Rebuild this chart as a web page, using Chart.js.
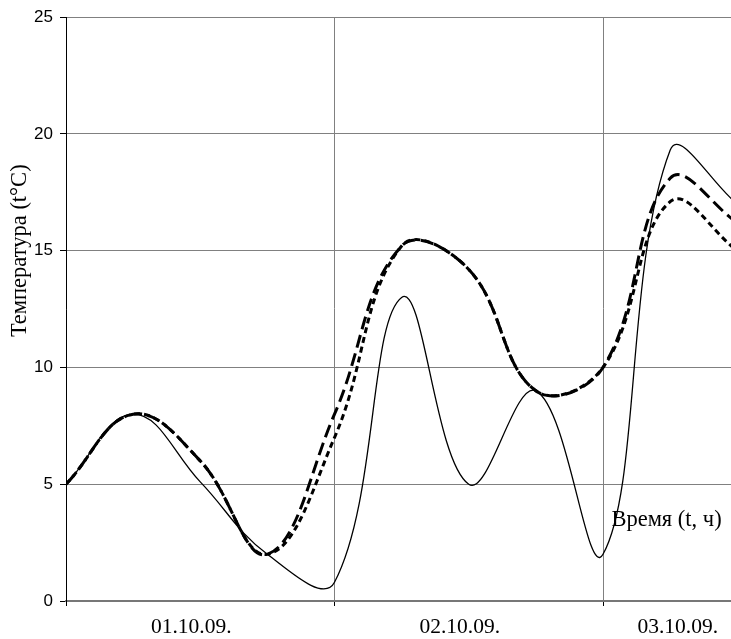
<!DOCTYPE html>
<html><head><meta charset="utf-8">
<script src="https://cdn.jsdelivr.net/npm/chart.js@4.4.0/dist/chart.umd.min.js"></script>
<style>html,body{margin:0;padding:0;background:#fff}#wrap{width:731px;height:639px}</style>
</head><body><div id="wrap"><canvas id="c" width="731" height="639"></canvas></div>
<script>
const hours = [0,6,12,18,24,30,36,42,48,54,60];
const seriesSolid = [5,8,5.1,2,0.8,13,5,9,2,19.3,17];
const seriesLongDash = [5,8,6,2,8,15.2,14.2,9,10,18.1,16.2];
const seriesShortDash = [5,8,6,2,7,15.2,14.2,9,10,17.1,15];
const dayLabels = ['01.10.09.','02.10.09.','03.10.09.'];
const dayStarts = [0,24,48];
const yTicks = [0,5,10,15,20,25];
const yTitle = 'Температура (t°C)';
const xTitle = 'Время (t, ч)';

const SERIF = '"Liberation Serif", "Times New Roman", serif';
const SANS = '"Liberation Sans", Arial, sans-serif';

function pts(vals){ return hours.map((h,i)=>({x:h,y:vals[i]})); }

const textPlugin = {
  id:'textPlugin',
  afterDraw(chart){
    const ctx = chart.ctx, xs = chart.scales.x, ys = chart.scales.y;
    ctx.save();
    ctx.fillStyle = '#000';
    ctx.font = '21.5px ' + SERIF;
    ctx.textBaseline = 'middle';
    ctx.textAlign = 'center';
    dayLabels.forEach((lab,i)=>{
      const w = ctx.measureText(lab).width;
      let cx = xs.getPixelForValue(dayStarts[i]+12) - 9;
      if (cx + w/2 > chart.width - 13) cx = chart.width - 13 - w/2;
      ctx.fillText(lab, cx, 627);
    });
    ctx.font = '22.5px ' + SERIF;
    ctx.textAlign = 'left';
    ctx.fillText(xTitle, xs.getPixelForValue(48.75), ys.getPixelForValue(3.45));
    ctx.translate(20, ys.getPixelForValue(15));
    ctx.rotate(-Math.PI/2);
    ctx.textAlign = 'center';
    ctx.fillText(yTitle, 0, 0);
    ctx.restore();
  }
};

new Chart(document.getElementById('c'), {
  type:'line',
  data:{ datasets:[
    { label:'long', data:pts(seriesLongDash), borderColor:'#000', borderWidth:3, borderDash:[13,6], pointRadius:0, tension:0.4, fill:false },
    { label:'short', data:pts(seriesShortDash), borderColor:'#000', borderWidth:3, borderDash:[6,4], pointRadius:0, tension:0.4, fill:false },
    { label:'solid', data:pts(seriesSolid), borderColor:'#000', borderWidth:1.3, pointRadius:0, tension:0.4, fill:false }
  ]},
  options:{
    responsive:false, animation:false, devicePixelRatio:1,
    layout:{ padding:{ top:16, right:0, left:0, bottom:0 } },
    elements:{ line:{ capBezierPoints:false } },
    plugins:{ legend:{display:false}, tooltip:{enabled:false} },
    scales:{
      x:{ type:'linear', min:0, max:(731-66)/((603-66)/48),
        afterBuildTicks(s){ s.ticks = dayStarts.map(v=>({value:v})); },
        afterFit(s){ s.height = 38; },
        ticks:{ display:false },
        grid:{ color:'#808080', lineWidth:1, tickLength:5, tickColor:'#000', drawTicks:true },
        border:{ color:'#777', width:2 }
      },
      y:{ min:0, max:25,
        afterBuildTicks(s){ s.ticks = yTicks.map(v=>({value:v})); },
        afterFit(s){ s.width = 66; },
        ticks:{ color:'#000', font:{ family:SANS, size:17 }, padding:7 },
        grid:{ color:'#808080', lineWidth:1, tickLength:6, tickColor:'#000' },
        border:{ color:'#000', width:1 }
      }
    }
  },
  plugins:[textPlugin]
});
</script></body></html>
